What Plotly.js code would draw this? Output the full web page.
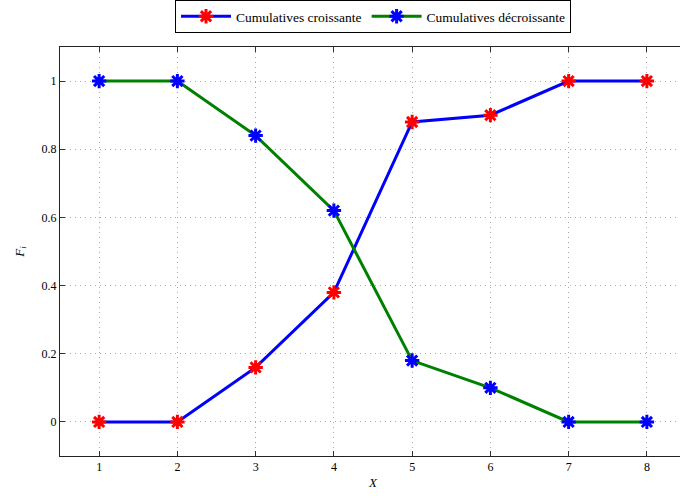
<!DOCTYPE html>
<html><head><meta charset="utf-8">
<script src="https://cdn.plot.ly/plotly-3.0.1.min.js"></script>
<style>html,body{margin:0;padding:0;overflow:hidden;background:#fff;}#chart{width:686px;height:498px;}</style>
</head><body><div id="chart"></div>
<script>
const xValues = [1, 2, 3, 4, 5, 6, 7, 8];
const croissante = [0, 0, 0.16, 0.38, 0.88, 0.90, 1, 1];
const decroissante = [1, 1, 0.84, 0.62, 0.18, 0.10, 0, 0];
const seriesNames = ['Cumulatives croissante', 'Cumulatives décroissante'];
const xTicks = [1, 2, 3, 4, 5, 6, 7, 8];
const yTicks = [0, 0.2, 0.4, 0.6, 0.8, 1];
const yTickText = ['0', '0.2', '0.4', '0.6', '0.8', '1'];

const font = {family: 'Liberation Serif, Times New Roman, serif', size: 12, color: '#000'};
const legendFont = {family: 'Liberation Serif, Times New Roman, serif', size: 13.5, color: '#000'};
const traces = [
  {x: xValues, y: croissante, name: seriesNames[0], mode: 'lines+markers',
   line: {color: '#0000ff', width: 3},
   marker: {symbol: 'asterisk-open', size: 12, color: '#ff0000', line: {color: '#ff0000', width: 3}}},
  {x: xValues, y: decroissante, name: seriesNames[1], mode: 'lines+markers',
   line: {color: '#008000', width: 3},
   marker: {symbol: 'asterisk-open', size: 12, color: '#0000ff', line: {color: '#0000ff', width: 3}}}
];
const axisCommon = {
  showline: true, linecolor: '#222', linewidth: 1, mirror: 'ticks',
  ticks: 'inside', ticklen: 5, tickcolor: '#333', tickwidth: 1,
  showgrid: true, gridcolor: '#a8a8a8', griddash: '1px,4px', gridwidth: 1,
  zeroline: false, tickfont: font
};
const layout = {
  width: 686, height: 498,
  margin: {l: 60, r: 0, t: 47, b: 42},
  paper_bgcolor: '#fff', plot_bgcolor: '#fff',
  font: font,
  showlegend: true,
  legend: {orientation: 'h', x: 0.5, xanchor: 'center', y: 1.035, yanchor: 'bottom',
    bordercolor: '#000', borderwidth: 1, bgcolor: '#fff', font: legendFont,
    itemwidth: 50, tracegroupgap: 0},
  xaxis: Object.assign({}, axisCommon, {range: [0.5, 8.5], tickvals: xTicks,
    title: {text: '<i>X</i>', font: {family: font.family, size: 13, color: '#000'}, standoff: 4}}),
  yaxis: Object.assign({}, axisCommon, {range: [-0.1, 1.1], tickvals: yTicks, ticktext: yTickText,
    title: {text: '<i>F<sub>i</sub></i>', font: {family: font.family, size: 13, color: '#000'}, standoff: 14}})
};
Plotly.newPlot('chart', traces, layout, {displayModeBar: false, staticPlot: true});
</script></body></html>
